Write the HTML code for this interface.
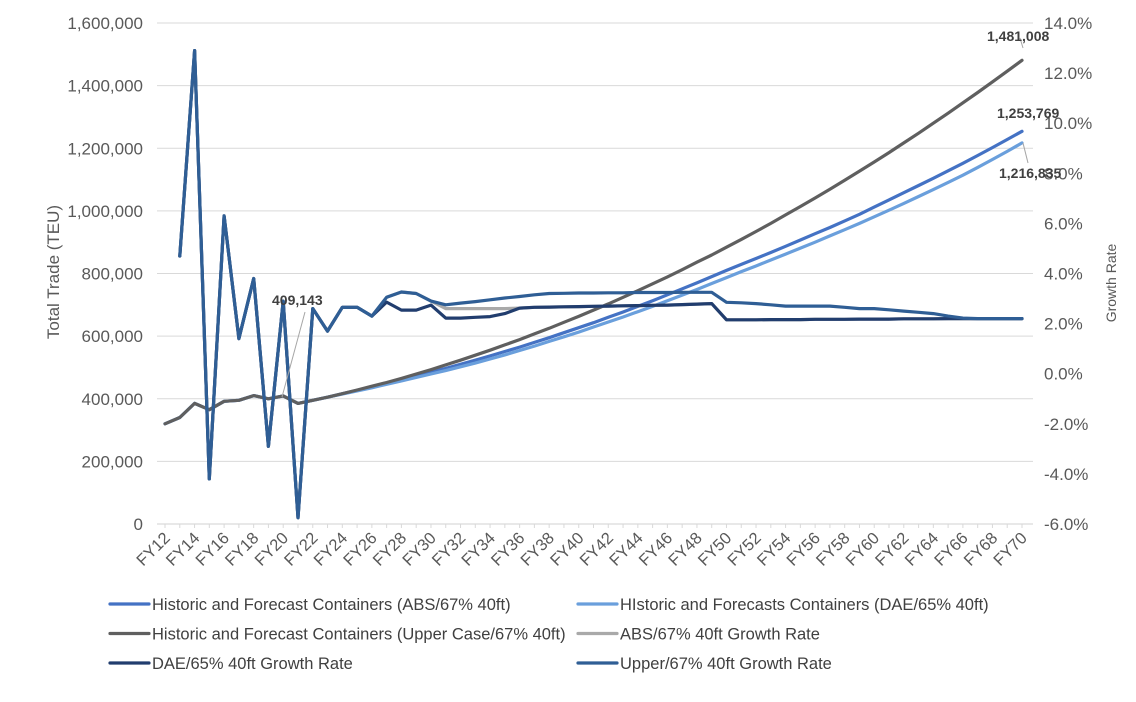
<!DOCTYPE html>
<html><head><meta charset="utf-8">
<style>
html,body{margin:0;padding:0;background:#fff;}
svg{display:block;font-family:"Liberation Sans",Arial,sans-serif;}
</style></head>
<body>
<svg id="chart" width="1136" height="702" viewBox="0 0 1136 702">
<g id="grid"></g>
<g id="yleft"></g>
<g id="yright"></g>
<g id="xaxis"></g>
<g id="series"></g>
<g id="labels"></g>
<text transform="translate(59,272) rotate(-90)" text-anchor="middle" font-size="17" fill="#595959">Total Trade (TEU)</text>
<text transform="translate(1116,283) rotate(-90)" text-anchor="middle" font-size="14" fill="#595959">Growth Rate</text>
<g id="legend"></g>
</svg>
<script>
const years = [];
for (let y = 12; y <= 70; y++) years.push('FY' + y);
const leftTicks = [0,200000,400000,600000,800000,1000000,1200000,1400000,1600000];
const rightTicks = [-6,-4,-2,0,2,4,6,8,10,12,14];
const upperTotal = [320,340,385,365,392,395,410,400,409,385,395,405,416,428,440,452,465,479,493,508,523,539,555,572,589,607,625,644,663,683,703,724,745,767,789,812,836,859,884,909,934,960,987,1014,1041,1069,1098,1127,1156,1186,1217,1248,1280,1312,1345,1378,1412,1446,1481];
const absTotal = [320,340,385,365,392,395,410,400,409,385,395,405,416,427,438,450,461,473,485,497,510,523,537,551,565,580,595,611,627,643,660,677,695,713,732,751,770,790,810,829,848,867,887,907,927,947,968,989,1012,1035,1058,1081,1104,1128,1152,1177,1202,1228,1254];
const daeTotal = [320,340,385,365,392,395,410,400,409,385,395,405,415,425,435,446,457,468,479,490,502,514,527,540,554,568,583,598,613,629,645,661,678,695,713,731,749,768,787,806,824,843,862,881,900,920,940,960,981,1002,1024,1046,1068,1091,1114,1139,1164,1190,1217];
const upperGrowth = [null,4.7,12.9,-4.2,6.3,1.4,3.8,-2.9,2.9,-5.75,2.6,1.7,2.65,2.65,2.3,3.05,3.26,3.2,2.9,2.75,2.82,2.88,2.95,3.02,3.08,3.15,3.2,3.21,3.22,3.22,3.23,3.23,3.24,3.24,3.24,3.25,3.25,3.25,2.85,2.83,2.8,2.75,2.7,2.7,2.7,2.7,2.65,2.6,2.6,2.55,2.5,2.45,2.4,2.3,2.22,2.2,2.2,2.2,2.2];
const absGrowth = [null,4.7,12.9,-4.2,6.3,1.4,3.8,-2.9,2.9,-5.75,2.6,1.7,2.65,2.65,2.3,3.05,3.26,3.2,2.9,2.6,2.6,2.6,2.6,2.6,2.62,2.65,2.66,2.67,2.68,2.69,2.7,2.71,2.72,2.73,2.74,2.76,2.78,2.8,2.15,2.15,2.15,2.16,2.16,2.16,2.17,2.17,2.17,2.18,2.18,2.18,2.19,2.19,2.19,2.2,2.2,2.2,2.2,2.2,2.2];
const daeGrowth = [null,4.7,12.9,-4.2,6.3,1.4,3.8,-2.9,2.9,-5.75,2.6,1.7,2.65,2.65,2.3,2.86,2.54,2.54,2.74,2.22,2.22,2.25,2.28,2.4,2.62,2.65,2.66,2.67,2.68,2.69,2.7,2.71,2.72,2.73,2.74,2.76,2.78,2.8,2.15,2.15,2.15,2.16,2.16,2.16,2.17,2.17,2.17,2.18,2.18,2.18,2.19,2.19,2.19,2.2,2.2,2.2,2.2,2.2,2.2];
const legendNames = ['Historic and Forecast Containers (ABS/67% 40ft)','HIstoric and Forecasts Containers (DAE/65% 40ft)','Historic and Forecast Containers (Upper Case/67% 40ft)','ABS/67% 40ft Growth Rate','DAE/65% 40ft Growth Rate','Upper/67% 40ft Growth Rate'];

const NS='http://www.w3.org/2000/svg';
const X0=165, X1=1022, YT=23, YB=524;
const xs = i => X0 + i*(X1-X0)/(years.length-1);
const yl = v => YB - v/1600000*(YB-YT);
const yr = v => YB - (v+6)/20*(YB-YT);
function mk(tag, parent, attrs){const e=document.createElementNS(NS,tag);for(const k in attrs)e.setAttribute(k,attrs[k]);parent.appendChild(e);return e;}

const grid=document.getElementById('grid');
const yleft=document.getElementById('yleft');
leftTicks.forEach(v=>{
  if(v>0){const l=mk('line',grid,{x1:157,x2:1033,y1:yl(v),y2:yl(v),stroke:'#d9d9d9','stroke-width':1});
  
  }
  const t=mk('text',yleft,{x:143,y:yl(v)+6,'text-anchor':'end','font-size':17,fill:'#595959'});
  t.textContent=v.toLocaleString('en-US');
  
  
});
const yright=document.getElementById('yright');
rightTicks.forEach(v=>{
  const t=mk('text',yright,{x:1044,y:yr(v)+6,'font-size':17,fill:'#595959'});
  t.textContent=v.toFixed(1)+'%';
  
  
});
const xaxis=document.getElementById('xaxis');
const ax=mk('line',xaxis,{x1:157,x2:1033,y1:YB,y2:YB,stroke:'#d9d9d9','stroke-width':1.2});


years.forEach((y,i)=>{
  mk('line',xaxis,{x1:xs(i),x2:xs(i),y1:YB,y2:YB+4,stroke:'#d9d9d9'});
  if(i%2===0){
    const t=mk('text',xaxis,{transform:`translate(${xs(i)+6},${YB+15}) rotate(-45)`,'text-anchor':'end','font-size':16.5,fill:'#595959'});
    t.textContent=y;
    
    
  }
});
const series=document.getElementById('series');
function line(arr, fy, color, name, w){
  let d='';
  arr.forEach((v,i)=>{ if(v===null) return; d += (d?'L':'M')+xs(i).toFixed(1)+','+fy(v).toFixed(1); });
  const p=mk('path',series,{d:d,fill:'none',stroke:color,'stroke-width':w||3.2,'stroke-linejoin':'round','stroke-linecap':'round'});
  
  
}
line(absTotal, v=>yl(v*1000), '#4472c4', 'abs-total-line');
line(daeTotal, v=>yl(v*1000), '#6a9fdc', 'dae-total-line');
line(upperTotal, v=>yl(v*1000), '#5f5f5f', 'upper-case-total-line');
line(absGrowth, yr, '#a9a9a9', 'abs-growth-line');
line(daeGrowth, yr, '#213d6e', 'dae-growth-line');
line(upperGrowth, yr, '#2f5e95', 'upper-growth-line');

const labels=document.getElementById('labels');
function lbl(txt,x,y,name){const t=mk('text',labels,{x:x,y:y,'font-size':14,'font-weight':'bold',fill:'#404040'});t.textContent=txt;
  
  }
mk('line',labels,{x1:305,y1:312,x2:282,y2:397,stroke:'#a6a6a6','stroke-width':1});
lbl('409,143',272,305,'label-fy20');
mk('line',labels,{x1:1023,y1:48,x2:1020,y2:38,stroke:'#a6a6a6','stroke-width':1});
lbl('1,481,008',987,41,'label-upper-fy70');
lbl('1,253,769',997,118,'label-abs-fy70');
mk('line',labels,{x1:1023,y1:143,x2:1028,y2:163,stroke:'#a6a6a6','stroke-width':1});
lbl('1,216,835',999,178,'label-dae-fy70');

const legend=document.getElementById('legend');
const legColors=['#4472c4','#6a9fdc','#5f5f5f','#a9a9a9','#213d6e','#2f5e95'];
legendNames.forEach((n,i)=>{
  const col=i%2, row=Math.floor(i/2);
  const x=col?578:110, y=604+row*29.5;
  const g=mk('g',legend,{});
  
  
  mk('line',g,{x1:x,x2:x+39,y1:y,y2:y,stroke:legColors[i],'stroke-width':3.2,'stroke-linecap':'round'});
  const t=mk('text',g,{x:x+42,y:y+6,'font-size':16.5,fill:'#404040'});
  t.textContent=n;
});
</script>
</body></html>
